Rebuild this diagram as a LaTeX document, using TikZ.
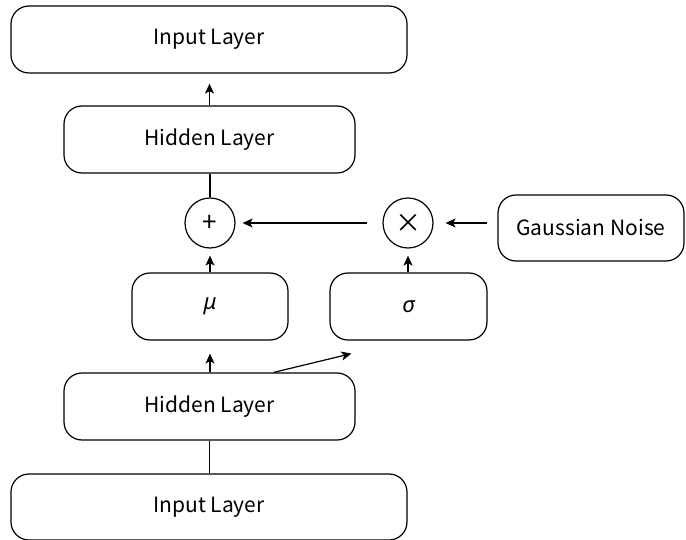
\documentclass[tikz,border=0pt]{standalone}
\usepackage{fontspec}
\setmainfont{Noto Sans CJK JP}
\newfontfamily\greekit{Noto Sans}[ItalicFont={Noto Sans Italic}]
\usetikzlibrary{arrows.meta,calc}
\begin{document}
\begin{tikzpicture}[x=1pt,y=-1pt,
  box/.style={draw, line width=1.2pt, rounded corners=18pt, inner sep=0pt, font=\fontsize{21}{24}\selectfont},
  op/.style={draw, circle, line width=1.2pt, minimum size=50pt, inner sep=0pt, font=\fontsize{26}{28}\selectfont},
  arr/.style={line width=1.2pt, -{Stealth[length=10pt,width=9pt,inset=2.5pt]}},
  ln/.style={line width=1.2pt}]
\useasboundingbox (0,0) rectangle (686,540);
\node[box, minimum width=396pt, minimum height=67pt] (in1) at (209,39.5) {Input Layer};
\node[box, minimum width=291pt, minimum height=67pt] (h1) at (209.5,139.5) {Hidden Layer};
\node[op] (plus) at (210,223) {+};
\node[op] (times) at (408,223) {×};
\node[box, minimum width=186pt, minimum height=66pt] (noise) at (591,228) {Gaussian Noise};
\node[box, minimum width=156pt, minimum height=67pt] (mu) at (210,306.5) {{\fontsize{22}{24}\selectfont\greekit\itshape μ}};
\node[box, minimum width=157pt, minimum height=67pt] (sigma) at (408.5,306.5) {{\fontsize{22}{24}\selectfont\greekit\itshape σ}};
\node[box, minimum width=291pt, minimum height=67pt] (h2) at (209.5,406.5) {Hidden Layer};
\node[box, minimum width=396pt, minimum height=66pt] (in2) at (209,507) {Input Layer};
\draw[arr, shorten >=10pt] (h1.north) -- (h1.north |- in1.south);
\draw[ln] (plus.north) -- (plus.north |- h1.south);
\draw[arr, shorten <=15pt, shorten >=7pt] (times.west) -- (plus.east);
\draw[arr, shorten <=10pt, shorten >=12pt] (noise.west |- times.east) -- (times.east);
\draw[arr, shorten >=7pt] (mu.north) -- (plus.south);
\draw[arr, shorten >=7pt] (sigma.north -| times.south) -- (times.south);
\draw[arr, shorten >=13pt] (mu.south |- h2.north) -- (mu.south);
\coordinate (dstart) at ($(h2.north east)+(-82,0)$);
\coordinate (dend) at ($(sigma.south west)+(22,13)$);
\draw[arr] (dstart) -- (dend);
\draw[ln] (in2.north -| h2.south) -- (h2.south);
\end{tikzpicture}
\end{document}
